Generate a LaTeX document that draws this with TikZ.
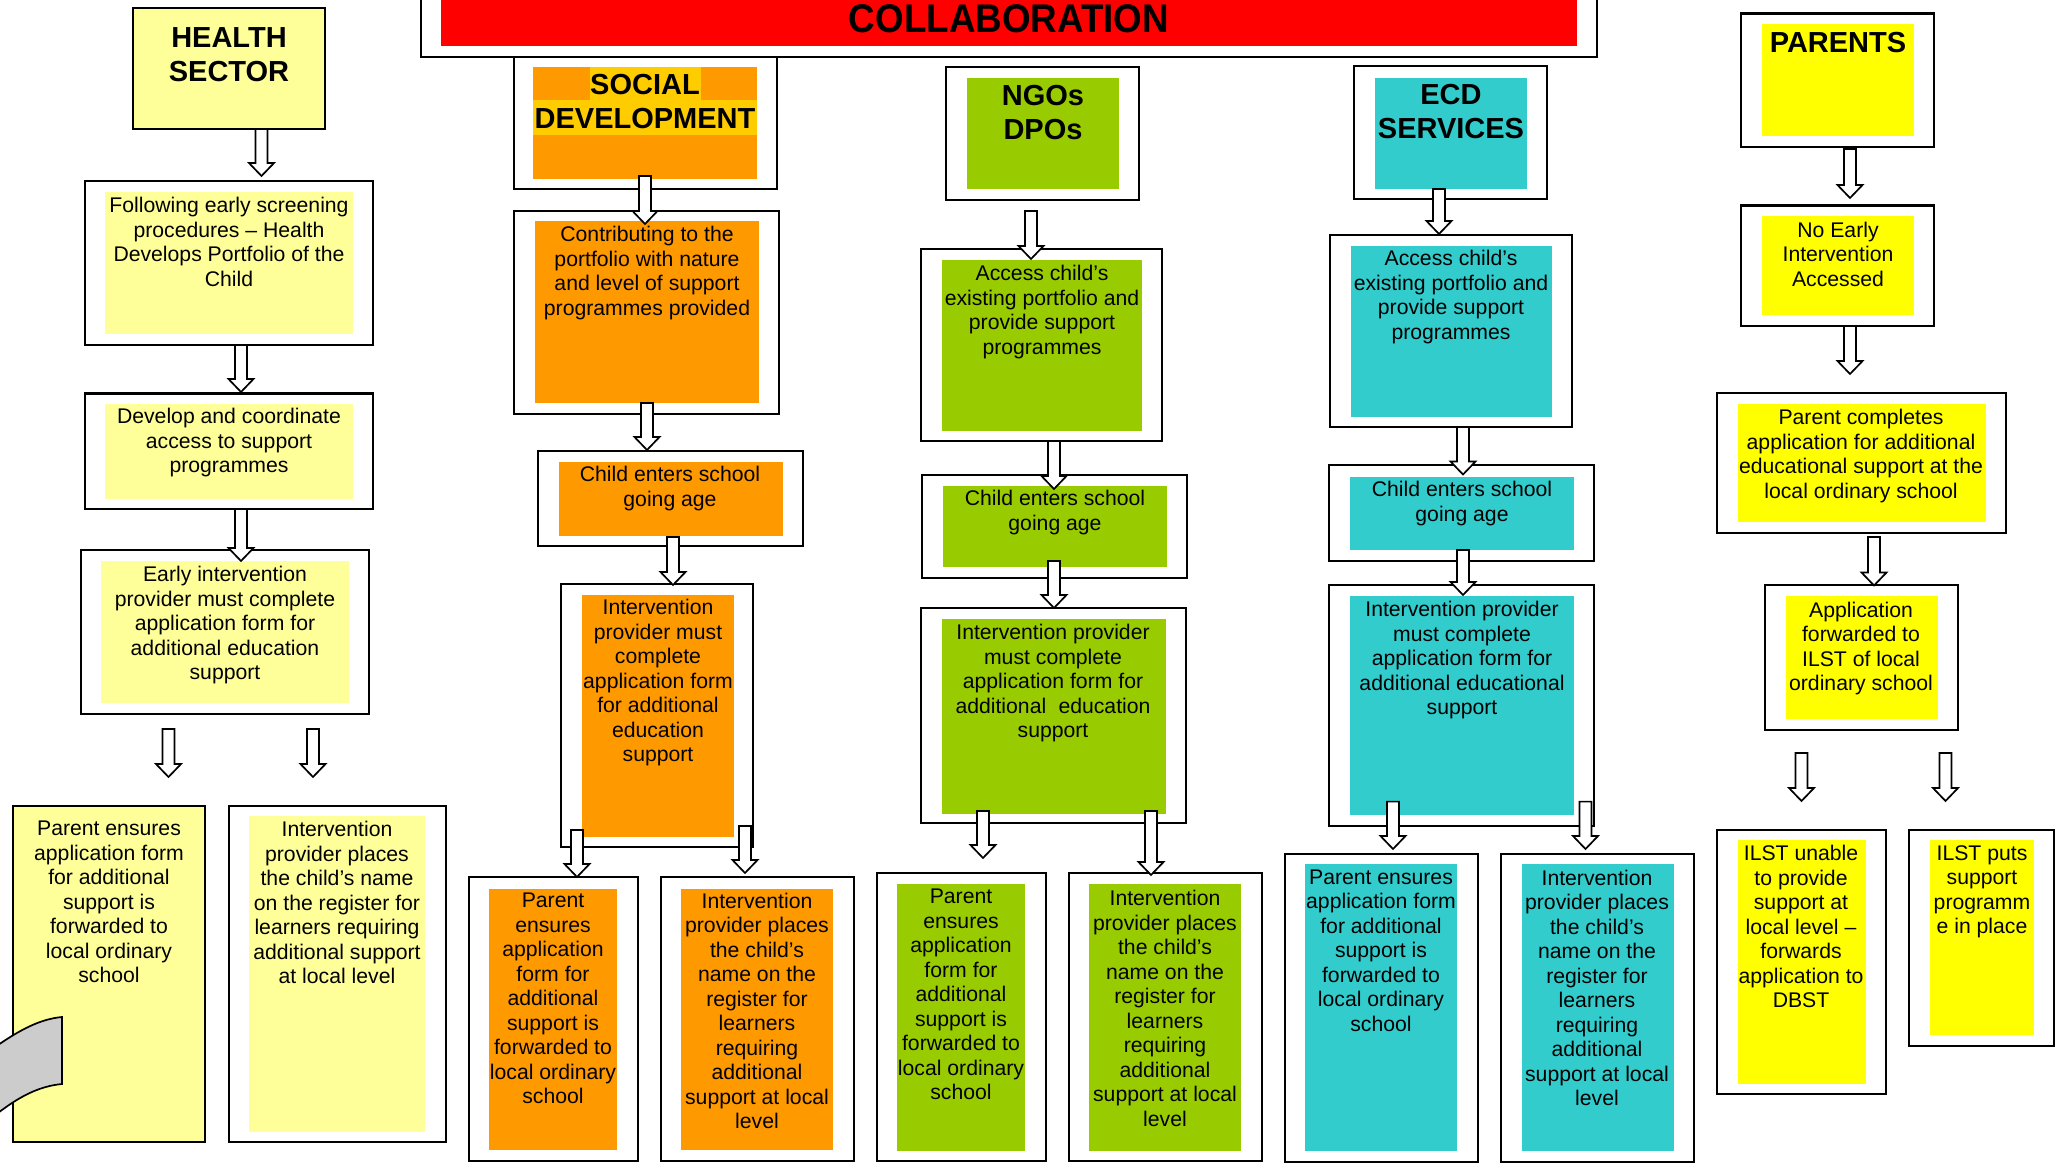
\documentclass[tikz,border=0pt]{standalone}
\usepackage{fontspec}
\setmainfont{Liberation Sans}
\newfontfamily\collabfont{Liberation Sans}[FakeStretch=0.92]
\usetikzlibrary{calc}
\definecolor{lyel}{HTML}{FFFF99}
\definecolor{sdor}{HTML}{FF9900}
\definecolor{sdhi}{HTML}{FFCC00}
\definecolor{ngog}{HTML}{99CC00}
\definecolor{ecdc}{HTML}{33CCCC}
\definecolor{pyel}{HTML}{FFFF00}
\definecolor{cred}{HTML}{FF0000}
\definecolor{cgray}{HTML}{CCCCCC}
\tikzset{
 frame/.style={draw=black, line width=2.2pt},
 txt/.style={inner sep=0pt, align=center, anchor=north, font=\fontsize{21.2}{24.5}\selectfont},
 hd/.style={inner sep=0pt, align=center, anchor=north, font=\bfseries\fontsize{29}{34}\selectfont},
 barrow/.style={draw=black, fill=white, line width=1.7pt, line join=miter},
}
\newcommand\blockarrow[2]{\draw[barrow] let \p1=(#1), \p2=(#2) in (\x1-6pt,\y1) -- (\x1-6pt,\y2+13pt) -- (\x1-12.5pt,\y2+13pt) -- (\x2,\y2) -- (\x1+12.5pt,\y2+13pt) -- (\x1+6pt,\y2+13pt) -- (\x1+6pt,\y1) -- cycle;}
\newcommand\twobox[9]{\draw[frame,fill=white] (#1,#2) rectangle (#3,#4); \fill[#9] (#5,#6) rectangle (#7,#8);}
\begin{document}
\begin{tikzpicture}[x=1pt,y=-1pt]
\useasboundingbox (0,0) rectangle (2066,1167);
\fill[white] (0,0) rectangle (2066,1167);
% ---------- COLLABORATION ----------
\draw[frame] (421,-5) -- (421,57) -- (1597,57) -- (1597,-5);
\fill[cred] (441,0) rectangle (1577,46);
\node[inner sep=0pt, font=\collabfont\bfseries\fontsize{40}{44}\selectfont] (collab) at (1009,18.5) {COLLABORATION};
% ---------- HEALTH ----------
\draw[frame,fill=lyel] (133,8) rectangle (325,129);
\node[hd] (hs) at (229,27) {HEALTH\\SECTOR};
\twobox{85}{181}{373}{345}{105}{192}{353}{334}{lyel}
\node[txt] (h2) at (229,197) {Following early screening\\procedures – Health\\Develops Portfolio of the\\Child};
\twobox{85}{393.5}{373}{508.7}{105}{404}{353}{499}{lyel}
\node[txt] (h3) at (229,408) {Develop and coordinate\\access to support\\programmes};
\twobox{81}{550}{369}{714}{101}{561}{349}{703}{lyel}
\node[txt] (h4) at (225,566) {Early intervention\\provider must complete\\application form for\\additional education\\support};
\draw[frame,fill=lyel] (12.7,806) rectangle (205,1142);
\node[txt] (h5) at (109,821) {Parent ensures\\application form\\for additional\\support is\\forwarded to\\local ordinary\\school};
\twobox{229}{806}{446}{1142}{249}{816}{425}{1132}{lyel}
\node[txt] (h6) at (337,821) {Intervention\\provider places\\the child’s name\\on the register for\\learners requiring\\additional support\\at local level};
\draw[draw=black, fill=cgray, line width=1.7pt] (-2,1045) .. controls (20,1030) and (40,1019) .. (62,1017) -- (62,1084) .. controls (40,1086) and (20,1096) .. (-2,1113) -- cycle;
% ---------- SOCIAL DEVELOPMENT ----------
\twobox{514}{57}{777}{189}{533}{67}{757}{179}{sdor}
\fill[sdhi] (590,67) rectangle (701,100);
\fill[sdhi] (533,100) rectangle (757,135);
\node[hd] (sd) at (645,74.5) {SOCIAL\\DEVELOPMENT};
\twobox{514}{211}{779}{414}{535}{221}{759}{403}{sdor}
\node[txt] (s2) at (647,226) {Contributing to the\\portfolio with nature\\and level of support\\programmes provided};
\twobox{538}{451}{803}{546}{559}{462}{783}{536}{sdor}
\node[txt] (s3) at (670,466) {Child enters school\\going age};
\twobox{561}{584}{753}{847}{582}{595}{734}{837}{sdor}
\node[txt] (s4) at (658,599) {Intervention\\provider must\\complete\\application form\\for additional\\education\\support};
\twobox{469}{877}{638}{1161}{489}{889}{617}{1150}{sdor}
\node[txt] (s5) at (553,893) {Parent\\ensures\\application\\form for\\additional\\support is\\forwarded to\\local ordinary\\school};
\twobox{661}{877}{854}{1161}{681}{889}{833}{1150}{sdor}
\node[txt] (s6) at (757,892.5) {Intervention\\provider places\\the child’s\\name on the\\register for\\learners\\requiring\\additional\\support at local\\level};
% ---------- NGOs ----------
\twobox{946}{67}{1139}{200}{967}{78}{1119}{189}{ngog}
\node[hd] (ng) at (1043,85.5) {NGOs\\DPOs};
\twobox{921}{249}{1162}{441}{942}{260}{1142}{431}{ngog}
\node[txt] (n2) at (1042,265) {Access child’s\\existing portfolio and\\provide support\\programmes};
\twobox{922}{475}{1187}{578}{943}{486}{1167}{567}{ngog}
\node[txt] (n3) at (1055,490) {Child enters school\\going age};
\twobox{921}{608}{1186}{823}{942}{619}{1166}{814}{ngog}
\node[txt] (n4) at (1053,624) {Intervention provider\\must complete\\application form for\\additional\hspace{0.3em} education\\support};
\twobox{877}{873}{1046}{1161}{897}{884}{1025}{1151}{ngog}
\node[txt] (n5) at (961,889) {Parent\\ensures\\application\\form for\\additional\\support is\\forwarded to\\local ordinary\\school};
\twobox{1069}{873}{1262}{1161}{1089}{884}{1241}{1151}{ngog}
\node[txt] (n6) at (1165,890) {Intervention\\provider places\\the child’s\\name on the\\register for\\learners\\requiring\\additional\\support at local\\level};
% ---------- ECD ----------
\twobox{1354}{66}{1547}{199}{1375}{78}{1527}{189}{ecdc}
\node[hd] (ec) at (1451,84.5) {ECD\\SERVICES};
\twobox{1330}{235}{1572}{427}{1351}{246}{1552}{417}{ecdc}
\node[txt] (e2) at (1451,250) {Access child’s\\existing portfolio and\\provide support\\programmes};
\twobox{1329}{465}{1594}{561}{1350}{476.5}{1574}{550}{ecdc}
\node[txt] (e3) at (1462,481) {Child enters school\\going age};
\twobox{1329}{585}{1594}{826}{1350}{596}{1574}{815}{ecdc}
\node[txt] (e4) at (1462,601) {Intervention provider\\must complete\\application form for\\additional educational\\support};
\twobox{1285}{854}{1478}{1162}{1305}{864}{1457}{1151}{ecdc}
\node[txt] (e5) at (1381,869.5) {Parent ensures\\application form\\for additional\\support is\\forwarded to\\local ordinary\\school};
\twobox{1501}{854}{1694}{1162}{1522}{864}{1674}{1151}{ecdc}
\node[txt] (e6) at (1597,869.5) {Intervention\\provider places\\the child’s\\name on the\\register for\\learners\\requiring\\additional\\support at local\\level};
% ---------- PARENTS ----------
\twobox{1741}{13.4}{1934}{146.6}{1762}{24}{1914}{136}{pyel}
\node[hd] (pa) at (1838,32.5) {PARENTS};
\twobox{1741}{205.5}{1934}{326}{1762}{216}{1914}{315}{pyel}
\node[txt] (p2) at (1838,221.6) {No Early\\Intervention\\Accessed};
\twobox{1717}{393}{2006}{533}{1738}{404}{1986}{521.6}{pyel}
\node[txt] (p3) at (1861,409) {Parent completes\\application for additional\\educational support at the\\local ordinary school};
\twobox{1765}{585}{1958}{729.6}{1786}{596}{1938}{718.7}{pyel}
\node[txt] (p4) at (1861,601.6) {Application\\forwarded to\\ILST of local\\ordinary school};
\twobox{1717}{830}{1886}{1094}{1738}{840}{1866}{1084}{pyel}
\node[txt] (p5) at (1801,845) {ILST unable\\to provide\\support at\\local level –\\forwards\\application to\\DBST};
\twobox{1909}{830}{2054}{1046}{1930}{840}{2034}{1035}{pyel}
\node[txt] (p6) at (1982,845) {ILST puts\\support\\programm\\e in place};
% ---------- block arrows ----------
\coordinate (ha1) at (261.5,129); \coordinate (hb1) at (261.5,176);
\coordinate (ha2) at (241,345); \coordinate (hb2) at (241,392);
\coordinate (ha3) at (241,509); \coordinate (hb3) at (241,561);
\coordinate (ha4) at (168.5,729); \coordinate (hb4) at (168.5,777);
\coordinate (ha5) at (313,729); \coordinate (hb5) at (313,777);
\coordinate (sa1) at (645,176); \coordinate (sb1) at (645,224);
\coordinate (sa2) at (647,403); \coordinate (sb2) at (647,450);
\coordinate (sa3) at (673,537); \coordinate (sb3) at (673,585);
\coordinate (sa4) at (577,830); \coordinate (sb4) at (577,877);
\coordinate (sa5) at (745,826); \coordinate (sb5) at (745,873);
\coordinate (na1) at (1031,211); \coordinate (nb1) at (1031,259);
\coordinate (na2) at (1054,441); \coordinate (nb2) at (1054,489);
\coordinate (na3) at (1054,561); \coordinate (nb3) at (1054,608);
\coordinate (na4) at (983,811); \coordinate (nb4) at (983,858);
\coordinate (na5) at (1151,811); \coordinate (nb5) at (1151,875);
\coordinate (ea1) at (1439,189); \coordinate (eb1) at (1439,234);
\coordinate (ea2) at (1463,427); \coordinate (eb2) at (1463,474.5);
\coordinate (ea3) at (1463,550); \coordinate (eb3) at (1463,595);
\coordinate (ea4) at (1393,801.6); \coordinate (eb4) at (1393,849);
\coordinate (ea5) at (1585.5,801.6); \coordinate (eb5) at (1585.5,849);
\coordinate (pa1) at (1850,149); \coordinate (pb1) at (1850,198);
\coordinate (pa2) at (1850,326); \coordinate (pb2) at (1850,374);
\coordinate (pa3) at (1874,537); \coordinate (pb3) at (1874,585.5);
\coordinate (pa4) at (1801.5,753); \coordinate (pb4) at (1801.5,801);
\coordinate (pa5) at (1945.5,753); \coordinate (pb5) at (1945.5,801);
\foreach \c in {h,s,n,e,p}{\foreach \i in {1,...,5}{\blockarrow{\c a\i}{\c b\i}}}
\end{tikzpicture}
\end{document}
